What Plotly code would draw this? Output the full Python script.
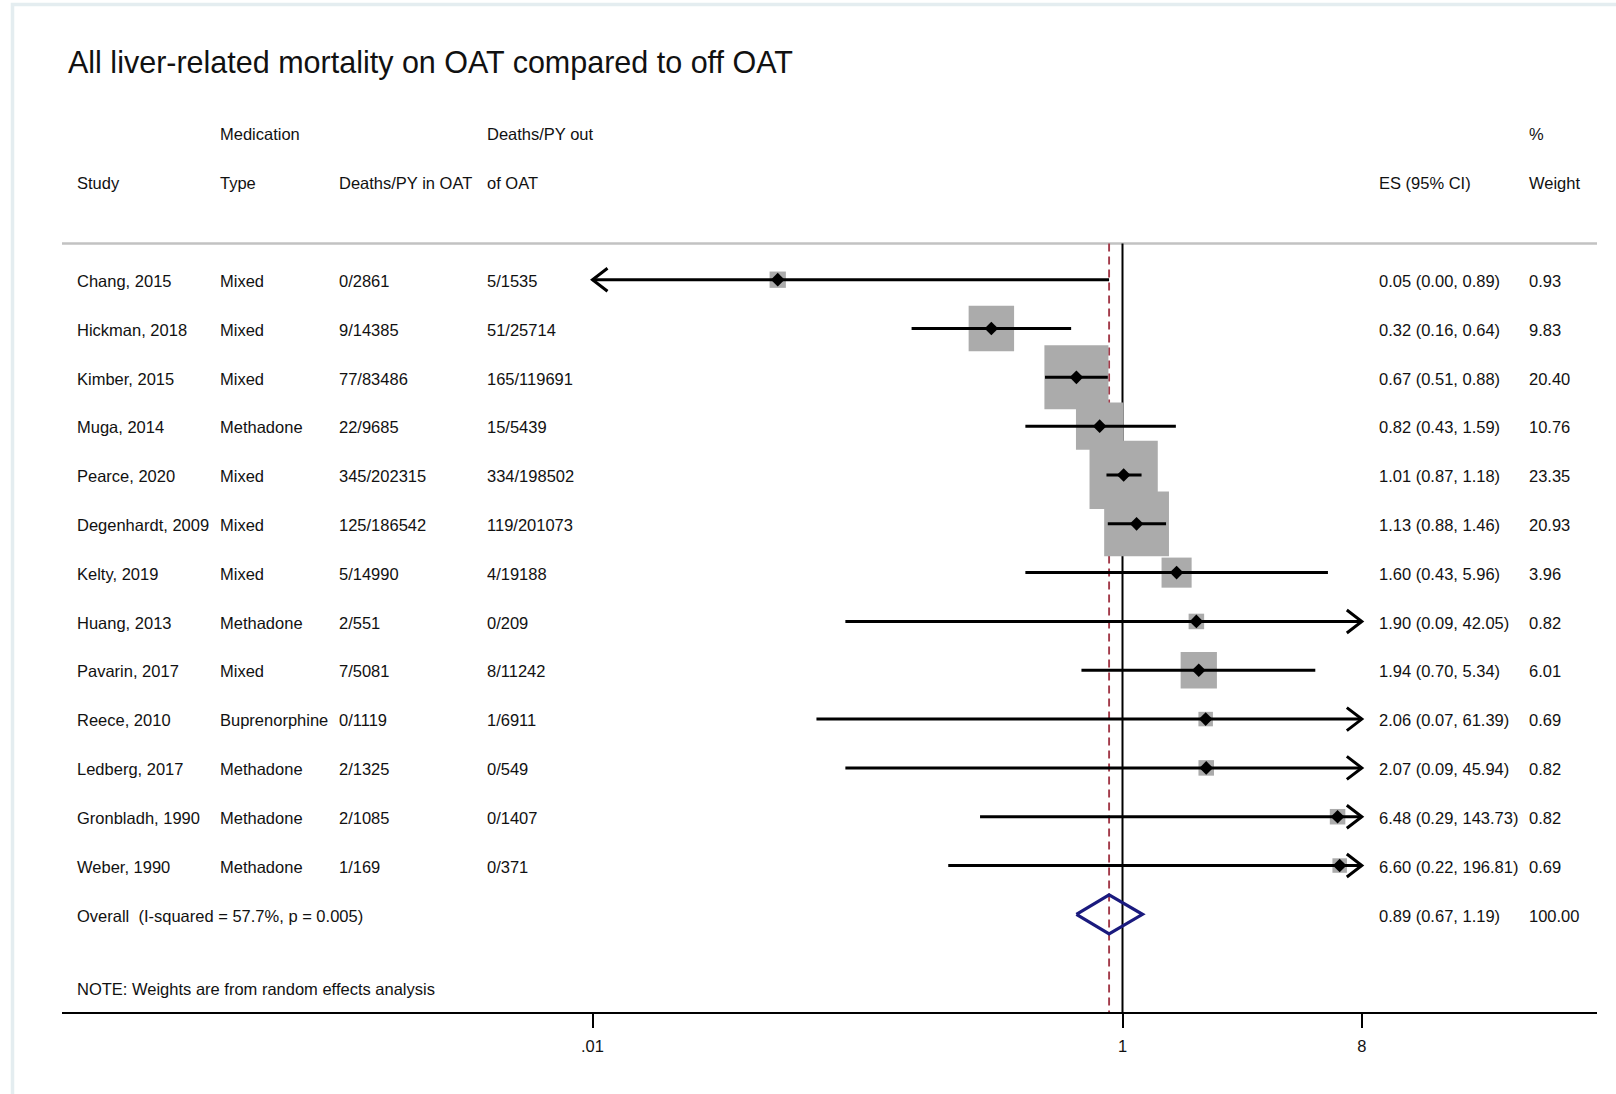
import numpy as np
import plotly.graph_objects as go

# ---- data -----------------------------------------------------------------
title_text = "All liver-related mortality on OAT compared to off OAT"

studies = ["Chang, 2015", "Hickman, 2018", "Kimber, 2015", "Muga, 2014",
           "Pearce, 2020", "Degenhardt, 2009", "Kelty, 2019", "Huang, 2013",
           "Pavarin, 2017", "Reece, 2010", "Ledberg, 2017", "Gronbladh, 1990",
           "Weber, 1990"]
med_type = ["Mixed", "Mixed", "Mixed", "Methadone", "Mixed", "Mixed", "Mixed",
            "Methadone", "Mixed", "Buprenorphine", "Methadone", "Methadone",
            "Methadone"]
deaths_in_oat = ["0/2861", "9/14385", "77/83486", "22/9685", "345/202315",
                 "125/186542", "5/14990", "2/551", "7/5081", "0/1119",
                 "2/1325", "2/1085", "1/169"]
deaths_out_oat = ["5/1535", "51/25714", "165/119691", "15/5439", "334/198502",
                  "119/201073", "4/19188", "0/209", "8/11242", "1/6911",
                  "0/549", "0/1407", "0/371"]
es = [0.05, 0.32, 0.67, 0.82, 1.01, 1.13, 1.60, 1.90, 1.94, 2.06, 2.07, 6.48, 6.60]
ci_lo = [0.00, 0.16, 0.51, 0.43, 0.87, 0.88, 0.43, 0.09, 0.70, 0.07, 0.09, 0.29, 0.22]
ci_hi = [0.89, 0.64, 0.88, 1.59, 1.18, 1.46, 5.96, 42.05, 5.34, 61.39, 45.94,
         143.73, 196.81]
weights = [0.93, 9.83, 20.40, 10.76, 23.35, 20.93, 3.96, 0.82, 6.01, 0.69, 0.82,
           0.82, 0.69]

overall_label = "Overall\u00a0\u00a0(I-squared = 57.7%, p = 0.005)"
overall_es, overall_lo, overall_hi, overall_wt = 0.89, 0.67, 1.19, 100.00
note_text = "NOTE: Weights are from random effects analysis"

header_top = ["", "Medication", "", "Deaths/PY out", "", "%"]
header_bottom = ["Study", "Type", "Deaths/PY in OAT", "of OAT", "ES (95% CI)", "Weight"]

tick_vals = [0.01, 1, 8]
tick_text = [".01", "1", "8"]
clip_lo, clip_hi = 0.01, 8   # CI display limits; beyond these an arrow is drawn

# ---- layout geometry --------------------------------------------------------
W, H = 1616, 1094
ML, MR, MT, MB = 62, 19, 100, 82
PW, PH = W - ML - MR, H - MT - MB
ROW_PX = 48.82
Y_BOTTOM = 15.0
Y_TOP = Y_BOTTOM - PH / ROW_PX
PX_PER_DECADE = 265.0
X_ONE_PX = 1122.5
x_range = [(ML - X_ONE_PX) / PX_PER_DECADE, (W - MR - X_ONE_PX) / PX_PER_DECADE]

col_px = [75, 218, 336.5, 485, 1377, 1527]
col_x = [(p - ML) / PW for p in col_px]
TEXT_DY = 0.025   # small downward nudge of row text, in row units

FONT = "Liberation Sans, Arial, sans-serif"
FS = 16.5
TXT = "#111111"
BOX_GREY = "#ababab"
NAVY = "#1a1a7e"
MAROON = "#a33b4a"

n = len(studies)
rows = list(range(n))
overall_row = n
note_row = 14.5
header_line_row = -0.74

fig = go.Figure()

# reference lines: null effect (solid) and pooled estimate (dashed)
fig.add_trace(go.Scatter(x=[1, 1], y=[header_line_row, Y_BOTTOM], mode="lines",
                         line=dict(color="black", width=2), hoverinfo="skip",
                         showlegend=False))
fig.add_trace(go.Scatter(x=[overall_es, overall_es], y=[header_line_row, Y_BOTTOM],
                         mode="lines",
                         line=dict(color=MAROON, width=1.9, dash="8px,5px"),
                         hoverinfo="skip", showlegend=False))

# weight boxes (area grows with study weight)
box_size = [13.43 * np.sqrt(w) + 3.35 for w in weights]
fig.add_trace(go.Scatter(x=es, y=rows, mode="markers",
                         marker=dict(symbol="square", size=box_size, color=BOX_GREY,
                                     opacity=1, line=dict(width=0)),
                         hoverinfo="skip", showlegend=False))

# confidence intervals, clipped to the axis limits
ci_x, ci_y = [], []
arrow_x, arrow_y = [], []
ARROW_DX = 15.0 / PX_PER_DECADE     # chevron depth in decades
ARROW_DY = 11.5 / ROW_PX            # chevron half-height in rows
for r, lo, hi in zip(rows, ci_lo, ci_hi):
    left = max(lo, clip_lo)
    right = min(hi, clip_hi)
    ci_x += [left, right, None]
    ci_y += [r, r, None]
    if lo < clip_lo:
        arm = clip_lo * 10 ** ARROW_DX
        arrow_x += [arm, clip_lo, arm, None]
        arrow_y += [r - ARROW_DY, r, r + ARROW_DY, None]
    if hi > clip_hi:
        arm = clip_hi * 10 ** (-ARROW_DX)
        arrow_x += [arm, clip_hi, arm, None]
        arrow_y += [r - ARROW_DY, r, r + ARROW_DY, None]

fig.add_trace(go.Scatter(x=ci_x, y=ci_y, mode="lines",
                         line=dict(color="black", width=3), hoverinfo="skip",
                         showlegend=False))
fig.add_trace(go.Scatter(x=arrow_x, y=arrow_y, mode="lines",
                         line=dict(color="black", width=3), hoverinfo="skip",
                         showlegend=False))

# point estimates
fig.add_trace(go.Scatter(x=es, y=rows, mode="markers",
                         marker=dict(symbol="diamond", size=10.5, color="black",
                                     opacity=1, line=dict(width=0)),
                         hoverinfo="skip", showlegend=False))

# pooled estimate diamond
half_h = 0.4
fig.add_trace(go.Scatter(
    x=[overall_lo, overall_es, overall_hi, overall_es, overall_lo],
    y=[overall_row, overall_row - half_h, overall_row, overall_row + half_h, overall_row],
    mode="lines", line=dict(color=NAVY, width=3.2), hoverinfo="skip", showlegend=False))

# ---- text columns -----------------------------------------------------------
annotations = []


def add_text(x, y, text, size=FS, yref="y"):
    annotations.append(dict(x=x, y=y + TEXT_DY, xref="paper", yref=yref, text=text,
                            showarrow=False, xanchor="left", yanchor="middle",
                            font=dict(family=FONT, size=size, color=TXT)))


for cx, t in zip(col_x, header_top):
    if t:
        add_text(cx, -3, t)
for cx, t in zip(col_x, header_bottom):
    add_text(cx, -2, t)

for i in range(n):
    add_text(col_x[0], rows[i], studies[i])
    add_text(col_x[1], rows[i], med_type[i])
    add_text(col_x[2], rows[i], deaths_in_oat[i])
    add_text(col_x[3], rows[i], deaths_out_oat[i])
    add_text(col_x[4], rows[i], f"{es[i]:.2f} ({ci_lo[i]:.2f}, {ci_hi[i]:.2f})")
    add_text(col_x[5], rows[i], f"{weights[i]:.2f}")

add_text(col_x[0], overall_row, overall_label)
add_text(col_x[4], overall_row, f"{overall_es:.2f} ({overall_lo:.2f}, {overall_hi:.2f})")
add_text(col_x[5], overall_row, f"{overall_wt:.2f}")
add_text(col_x[0], note_row, note_text)

# title
annotations.append(dict(x=(65.5 - ML) / PW, y=1 + (MT - 62.5) / PH, xref="paper",
                        yref="paper", text=title_text, showarrow=False,
                        xanchor="left", yanchor="middle",
                        font=dict(family=FONT, size=30.5, color=TXT)))

shapes = [
    # rule under the column headers
    dict(type="line", xref="paper", yref="y", x0=0, x1=1,
         y0=header_line_row, y1=header_line_row,
         line=dict(color="#c2c2c2", width=2.5), layer="below"),
    # outer frame of the graph region
    dict(type="rect", xref="paper", yref="paper",
         x0=(12.5 - ML) / PW, x1=(W + 40 - ML) / PW,
         y0=-(MB + 40) / PH, y1=1 + (MT - 4.5) / PH,
         line=dict(color="#e4edf0", width=3.5), layer="below"),
]

fig.update_layout(
    width=W, height=H,
    margin=dict(l=ML, r=MR, t=MT, b=MB, pad=0),
    paper_bgcolor="white", plot_bgcolor="white",
    showlegend=False,
    annotations=annotations,
    shapes=shapes,
    xaxis=dict(type="log", range=x_range, showgrid=False, zeroline=False,
               showline=True, linecolor="black", linewidth=2,
               ticks="outside", ticklen=14, tickwidth=2, tickcolor="black",
               tickvals=tick_vals, ticktext=tick_text, ticklabelstandoff=4,
               tickfont=dict(family=FONT, size=FS, color=TXT), fixedrange=True),
    yaxis=dict(range=[Y_BOTTOM, Y_TOP], visible=False, showgrid=False,
               zeroline=False, fixedrange=True),
)

fig.write_html("out.html")
